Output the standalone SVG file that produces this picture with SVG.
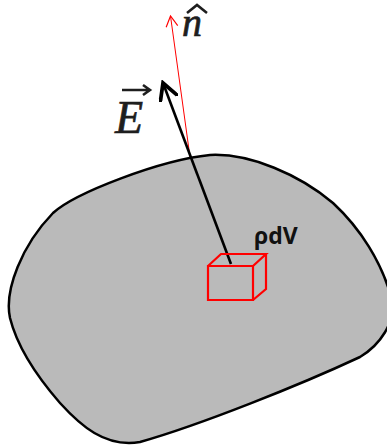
<svg xmlns="http://www.w3.org/2000/svg" width="387" height="446" viewBox="0 0 387 446">
<style>
.blob{fill:#bababa;stroke:#000;stroke-width:2.5}
.box{fill:none;stroke:#ff0000;stroke-width:2.2;stroke-linejoin:miter}
.sym{font-family:"Liberation Serif","DejaVu Serif",serif;font-style:italic;fill:#1e1e1e;stroke:#1e1e1e;stroke-width:0.7}
.deco{fill:none;stroke:#1e1e1e;stroke-width:2.6;stroke-linecap:butt;stroke-linejoin:miter}
.lbl{font-family:"Open Sans","Liberation Sans",sans-serif;font-weight:700;font-size:23px;fill:#111}
</style>
<defs>
<marker id="ahBlack" markerUnits="userSpaceOnUse" markerWidth="20" markerHeight="20" refX="12" refY="7" orient="auto" viewBox="0 0 14 14">
<path d="M1,1 L12,7 L1,13" fill="none" stroke="#000" stroke-width="2.6" stroke-linecap="round" stroke-linejoin="miter"/>
</marker>
<marker id="ahRed" markerUnits="userSpaceOnUse" markerWidth="14" markerHeight="14" refX="10" refY="6" orient="auto" viewBox="0 0 12 12">
<path d="M1,1 L10,6 L1,11" fill="none" stroke="#ff0000" stroke-width="1" stroke-linejoin="miter"/>
</marker>
</defs>
<g id="body">
<path class="blob" d="M 210,155 C 250,153 300,175 333,203 C 360,228 382,262 392,300 C 396,322 380,345 360,357 C 300,385 200,425 140,442 C 105,448 80,425 60,403 C 40,380 18,350 10,318 C 4,290 22,245 53,213 C 75,193 160,160 210,155 Z"/>
</g>
<g id="connectors">
<line x1="190" y1="157" x2="170.5" y2="16" stroke="#ff0000" stroke-width="1" marker-end="url(#ahRed)"/>
<line x1="231" y1="264" x2="163" y2="83" stroke="#000" stroke-width="2.6" marker-end="url(#ahBlack)"/>
</g>
<g id="element">
<path class="box" d="M208,266 H253 V300 H208 Z M208,266 L221,254 H266 L253,266 M266,254 V289 L253,300"/>
<text class="lbl" x="254" y="244">ρdV</text>
</g>
<g id="labels">
<text class="sym" x="182" y="36" font-size="40">n</text>
<path class="deco" d="M187,13 L197,5 L207,13"/>
<text class="sym" x="115" y="133" font-size="46">E</text>
<path class="deco" d="M122,90 H149 M143,85 L150,90 L143,95"/>
</g>
</svg>
